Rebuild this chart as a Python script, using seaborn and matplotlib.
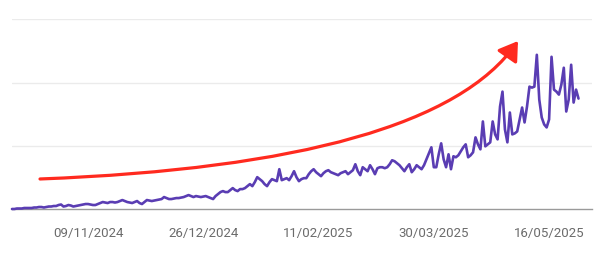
import matplotlib
matplotlib.use("Agg")
import matplotlib.pyplot as plt
from matplotlib.patches import FancyArrowPatch
from matplotlib.path import Path
import numpy as np
import pandas as pd
import seaborn as sns

# ---- data -------------------------------------------------------------
start_date = "2024-10-09"
interest = [
    0, 0, 0.5, 0.5, 0.5, 1, 1, 1, 1, 1.5,
    1.5, 2, 2, 1.5, 2, 2.5, 2.5, 3, 3, 4,
    4.5, 2.5, 3, 4, 3.5, 2.5, 3, 3.5, 4, 4.5,
    5, 5, 4.5, 4, 4, 5, 6, 7, 6.5, 6,
    7, 7, 6.5, 7, 8, 9, 8, 7, 6.5, 6,
    7, 8, 6, 5, 7, 9, 8.5, 8, 8.5, 9,
    9.5, 10, 12, 11, 10, 10, 10.5, 11, 11, 11.5,
    12, 13, 14, 13, 12, 13, 12.5, 12, 12.5, 13,
    12, 11, 10, 13, 15, 17, 18, 17, 17, 19,
    21, 19, 18, 20, 20, 21, 23, 25, 23, 27,
    32, 30, 28, 25, 23, 27, 30, 29, 28, 40,
    29, 30, 31, 29, 33, 38, 32, 28, 30, 31,
    31, 35, 38, 40, 37, 35, 33, 36, 38, 39,
    37, 36, 35, 34, 36, 37, 38, 35, 37, 39,
    45, 38, 34, 42, 40, 38, 44, 40, 35, 41,
    42, 42, 41, 42, 45, 49, 48, 46, 44, 41,
    38, 42, 45, 37, 40, 44, 42, 40, 44, 50,
    56, 62, 42, 42, 55, 66, 50, 42, 55, 40,
    53, 52, 54, 58, 62, 65, 52, 54, 57, 72,
    65, 60, 88, 63, 65, 67, 88, 75, 70, 103,
    118, 80, 67, 97, 75, 76, 78, 90, 102, 87,
    103, 123, 122, 123, 155, 110, 92, 85, 82, 90,
    153, 120, 118, 115, 125, 142, 98, 110, 145, 107,
    120, 111,
]
tick_dates = ["2024-11-09", "2024-12-26", "2025-02-11", "2025-03-30", "2025-05-16"]
tick_labels = ["09/11/2024", "26/12/2024", "11/02/2025", "30/03/2025", "16/05/2025"]
grid_levels = [63.5, 127, 190.5]
x_end = "2025-06-02 12:00"

# ---- style ------------------------------------------------------------
sns.set_style("white")
plt.rcParams['font.family'] = ['Roboto', 'DejaVu Sans']

dates = pd.date_range(start_date, periods=len(interest), freq="D")
df = pd.DataFrame({"date": dates, "interest": interest})

fig = plt.figure(figsize=(6.03, 2.55), dpi=100)
ax = fig.add_axes([12 / 603, 45 / 255, 580 / 603, 190 / 255])

sns.lineplot(data=df, x="date", y="interest", ax=ax, color="#5a3db3",
             linewidth=1.9, zorder=4, clip_on=False)

ax.set_xlim(pd.Timestamp(start_date), pd.Timestamp(x_end))
ax.set_ylim(0, 191)
ax.set_yticks(grid_levels)
ax.set_yticklabels([])
ax.yaxis.grid(True, color="#ebebeb", linewidth=1.0)
ax.xaxis.grid(False)
ax.set_xticks(pd.to_datetime(tick_dates))
ax.set_xticklabels(tick_labels)
ax.tick_params(axis="x", length=0, pad=12, labelsize=9.5, labelcolor="#6b6b6b")
ax.tick_params(axis="y", length=0)
ax.set_xlabel("")
ax.set_ylabel("")
for s in ["top", "left", "right"]:
    ax.spines[s].set_visible(False)
ax.spines["bottom"].set_color("#9a9a9a")
ax.spines["bottom"].set_linewidth(1.0)

# ---- red trend arrow (annotation, axes fraction) -----------------------
verts = [(0.0483, 0.158), (0.4966, 0.2105), (0.7724, 0.447), (0.8724, 0.884)]
codes = [Path.MOVETO, Path.CURVE4, Path.CURVE4, Path.CURVE4]
arrow = FancyArrowPatch(path=Path(verts, codes), transform=ax.transAxes,
                        arrowstyle="-|>,head_length=0.7,head_width=0.45",
                        mutation_scale=16, color="#ff2a1f", linewidth=2.3,
                        clip_on=False, zorder=5)
ax.add_patch(arrow)

fig.savefig("out.png", dpi=100)
